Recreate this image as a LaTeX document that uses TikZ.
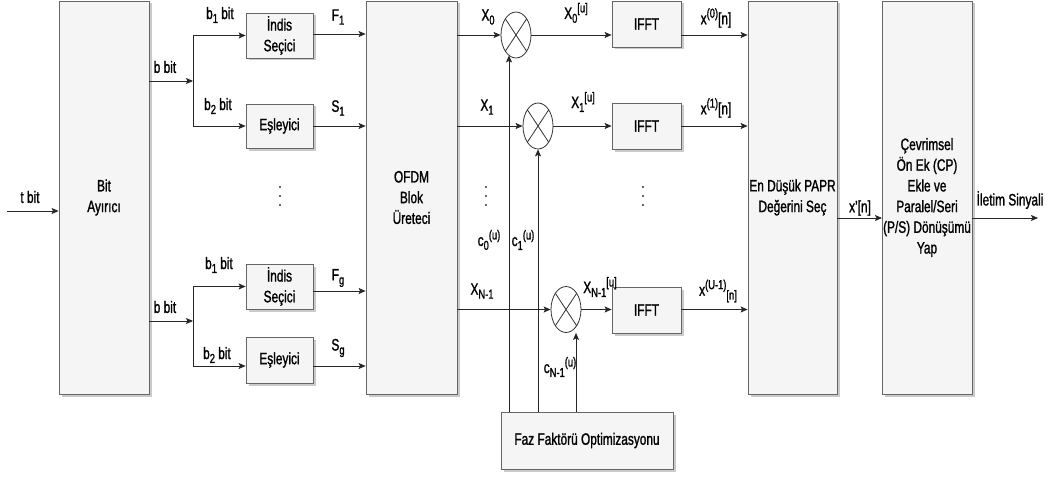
\documentclass[tikz,border=0pt]{standalone}
\usepackage{fontspec}
\setmainfont{Liberation Sans}[FakeStretch=0.72,FakeBold=1.2]
\usetikzlibrary{arrows.meta,shapes.geometric,shadows}
\definecolor{boxfill}{HTML}{F5F5F5}
\definecolor{boxline}{HTML}{666666}
\newcommand\mysub[1]{\raisebox{-0.45ex}{\fontsize{13}{13}\selectfont #1}}
\newcommand\mysup[1]{\raisebox{0.75ex}{\fontsize{13}{13}\selectfont #1}}
\begin{document}
\begin{tikzpicture}[x=1pt,y=-1pt,
  font=\fontsize{16.5}{20.7}\selectfont,
  blk/.style={draw=boxline,fill=boxfill,line width=0.8pt,align=center,inner sep=0pt,
    drop shadow={shadow xshift=2.5pt,shadow yshift=-2.5pt,fill=black!35,opacity=0.6}},
  mult/.style={ellipse,draw=black!80,fill=white,line width=0.8pt,minimum width=30pt,minimum height=46pt,inner sep=0pt},
  arr/.style={-{Stealth[length=7pt,width=6pt,inset=1.5pt]},line width=0.8pt,black!85},
  lbl/.style={inner sep=0pt}]
\useasboundingbox (0,0) rectangle (1048,476);
% blocks
\node[blk,minimum width=90pt,minimum height=393pt] (bit) at (104,197.5) {Bit\\Ayırıcı};
\node[blk,minimum width=67pt,minimum height=45pt] (ind1) at (279.5,35.5) {İndis\\Seçici};
\node[blk,minimum width=67pt,minimum height=44pt] (esl1) at (279.5,126) {Eşleyici};
\node[blk,minimum width=67pt,minimum height=45pt] (ind2) at (279.5,286.5) {İndis\\Seçici};
\node[blk,minimum width=67pt,minimum height=46pt] (esl2) at (279.5,360) {Eşleyici};
\node[blk,minimum width=91pt,minimum height=393pt] (ofdm) at (411.5,197.5) {OFDM\\Blok\\Üreteci};
\node[mult] (m1) at (516,35) {};
\node[mult] (m2) at (538,126) {};
\node[mult] (m3) at (566,309.5) {};
\foreach \m in {m1,m2,m3}{
  \draw[line width=0.8pt,black!80] (\m.north west) -- (\m.south east);
  \draw[line width=0.8pt,black!80] (\m.north east) -- (\m.south west);
}
\node[blk,minimum width=69pt,minimum height=46pt] (ifft1) at (646.5,24) {IFFT};
\node[blk,minimum width=69pt,minimum height=46pt] (ifft2) at (646.5,126) {IFFT};
\node[blk,minimum width=69pt,minimum height=46pt] (ifft3) at (646.5,310) {IFFT};
\node[blk,minimum width=89pt,minimum height=393pt] (papr) at (792.5,197.5) {En Düşük PAPR\\Değerini Seç};
\node[blk,minimum width=90pt,minimum height=393pt] (cp) at (927,197.5) {Çevrimsel\\Ön Ek (CP)\\Ekle ve\\Paralel/Seri\\(P/S) Dönüşümü\\Yap};
\node[blk,minimum width=172pt,minimum height=57pt] (faz) at (587,440.5) {Faz Faktörü Optimizasyonu};
% coordinates
\coordinate (tin) at (7,211);
\coordinate (sp1) at (193,81);
\coordinate (sp2) at (193,321);
\coordinate (c0x) at (509,0);
\coordinate (c1x) at (538,0);
\coordinate (c2x) at (576,0);
\coordinate (xo) at (882,218);
\coordinate (out) at (1038,218);
% connectors left
\draw[arr] (tin) -- (bit.west |- tin);
\draw[arr] (bit.east |- sp1) -- (sp1);
\draw[arr] (sp1) |- (ind1.west);
\draw[arr] (sp1) |- (esl1.west);
\draw[arr] (bit.east |- sp2) -- (sp2);
\draw[arr] (sp2) |- (ind2.west);
\draw[arr] (sp2) |- (esl2.west |- 0,366);
\draw[arr] (ind1.east |- 0,34) -- (ofdm.west |- 0,34);
\draw[arr] (esl1.east) -- (ofdm.west |- esl1.east);
\draw[arr] (ind2.east |- 0,291) -- (ofdm.west |- 0,291);
\draw[arr] (esl2.east |- 0,366) -- (ofdm.west |- 0,366);
% phase lines
\draw[arr] (c0x |- faz.north) -- ([yshift=3pt]c0x |- m1.south);
\draw[arr] (c1x |- faz.north) -- (c1x |- m2.south);
\draw[arr] (c2x |- faz.north) -- (c2x |- m3.south);
% multiplier inputs
\draw[arr] (ofdm.east |- m1.west) -- (m1.west);
\draw[arr] (ofdm.east |- m2.west) -- (m2.west);
\draw[arr] (ofdm.east |- m3.west) -- (m3.west);
\draw[arr] (m1.east) -- (ifft1.west |- m1.east);
\draw[arr] (m2.east) -- (ifft2.west);
\draw[arr] (m3.east) -- (ifft3.west |- m3.east);
\draw[arr] (ifft1.east |- m1.east) -- (papr.west |- m1.east);
\draw[arr] (ifft2.east) -- (papr.west |- ifft2.east);
\draw[arr] (ifft3.east |- m3.east) -- (papr.west |- m3.east);
\draw[arr] (papr.east |- xo) -- (xo);
\draw[arr] (cp.east |- out) -- (out);
% labels
\node[lbl] (l1) at (30,197) {t bit};
\node[lbl] (l2) at (165,67) {b bit};
\node[lbl] (l3) at (165,307) {b bit};
\node[lbl] (l4) at (220,15) {b\mysub{1} bit};
\node[lbl] (l5) at (219,265) {b\mysub{1} bit};
\node[lbl] (l6) at (218,106) {b\mysub{2} bit};
\node[lbl] (l7) at (217,355) {b\mysub{2} bit};
\node[lbl] (l8) at (338,17) {F\mysub{1}};
\node[lbl] (l9) at (338,108) {S\mysub{1}};
\node[lbl] (l10) at (338,278) {F\mysub{g}};
\node[lbl] (l11) at (338,348) {S\mysub{g}};
\node[lbl] (l12) at (488,17) {X\mysub{0}};
\node[lbl] (l13) at (487,107) {X\mysub{1}};
\node[lbl] (l14) at (482,291) {X\mysub{N-1}};
\node[lbl] (l15) at (576,13) {X\mysub{0}\mysup{[u]}};
\node[lbl] (l16) at (583,102) {X\mysub{1}\mysup{[u]}};
\node[lbl] (l17) at (600,287) {X\mysub{N-1}\mysup{[u]}};
\node[lbl] (l18) at (716,18) {x\mysup{(0)}[n]};
\node[lbl] (l19) at (716,108) {x\mysup{(1)}[n]};
\node[lbl] (l20) at (718,291) {x\mysup{(U-1)}\mysub{[n]}};
\node[lbl] (l21) at (489,240) {c\mysub{0}\mysup{(u)}};
\node[lbl] (l22) at (523,240) {c\mysub{1}\mysup{(u)}};
\node[lbl] (l23) at (560,367) {c\mysub{N-1}\mysup{(u)}};
\node[lbl] (l24) at (860,208) {x'[n]};
\node[lbl] (l25) at (1010,200) {İletim Sinyali};
% dots
\foreach \x in {280,486,643}{
  \foreach \y in {187,196,205}{
    \fill[black!80] (\x,\y) circle (1.1pt);
  }
}
\end{tikzpicture}
\end{document}
